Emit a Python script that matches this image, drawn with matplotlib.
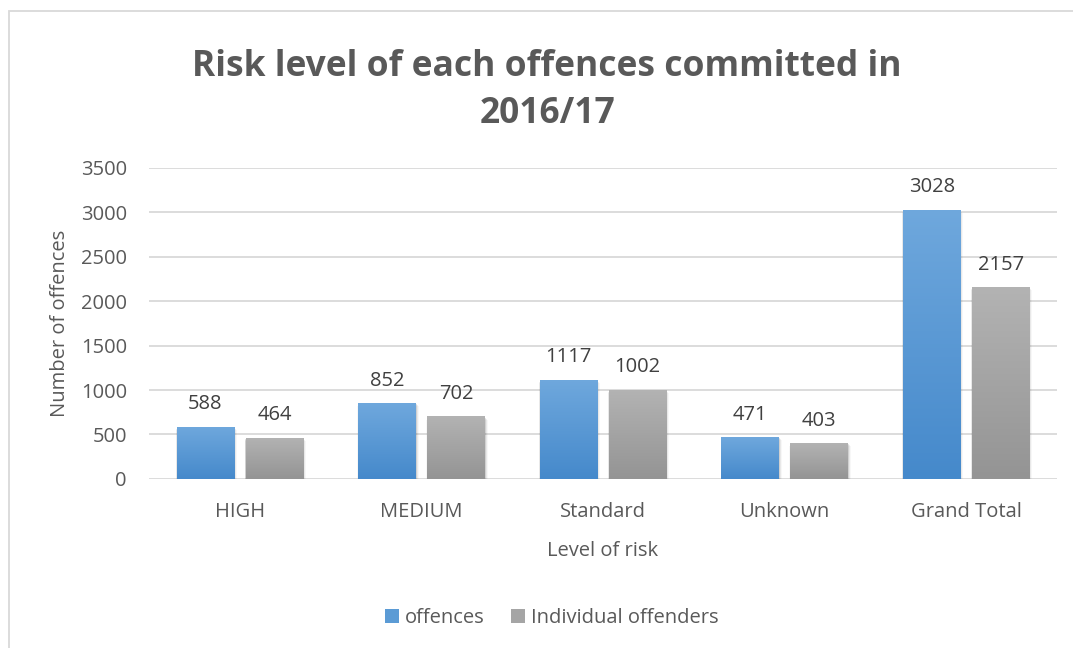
import numpy as np
import matplotlib.pyplot as plt
from matplotlib.colors import LinearSegmentedColormap
from matplotlib.patches import Rectangle

categories = ["HIGH", "MEDIUM", "Standard", "Unknown", "Grand Total"]
offences = [588, 852, 1117, 471, 3028]
individual_offenders = [464, 702, 1002, 403, 2157]
series_names = ["offences", "Individual offenders"]

TEXT = "#595959"
plt.rcParams["font.family"] = ["Open Sans", "DejaVu Sans"]

fig = plt.figure(figsize=(10.73, 6.48), dpi=100)
# outer chart frame (runs off the right and bottom edges)
fig.patches.append(Rectangle((8.5 / 1073, -10 / 648), 1100 / 1073, 647 / 648,
                             transform=fig.transFigure, fill=False,
                             edgecolor="#d9d9d9", linewidth=1.3))

ax = fig.add_axes([0.139, 0.261, 0.846, 0.48])

x = np.arange(len(categories))
width = 0.315
offset = 0.19

blue_cmap = LinearSegmentedColormap.from_list("b", ["#6fa8dd", "#4589cb"])
gray_cmap = LinearSegmentedColormap.from_list("g", ["#b3b3b3", "#949494"])
grad = np.linspace(0, 1, 256).reshape(-1, 1)


def gradient_bars(xs, values, cmap, label):
    bars = ax.bar(xs, values, width, color="none", label=label, zorder=3)
    for b in bars:
        x0, y0 = b.get_x(), b.get_y()
        w, h = b.get_width(), b.get_height()
        # soft drop shadow
        for k, a in enumerate([0.10, 0.06, 0.03]):
            d = 0.006 * (k + 1)
            ax.add_patch(Rectangle((x0 - d * 0.3, y0 - 12 * (k + 1)), w + d * 1.2, h,
                                   facecolor="black", alpha=a, linewidth=0, zorder=2))
        im = ax.imshow(grad, cmap=cmap, aspect="auto",
                       extent=[x0, x0 + w, y0, y0 + h], zorder=3)
        im.set_clip_path(b)
    for xi, v in zip(xs, values):
        ax.annotate(str(v), (xi, v), xytext=(0, 9), textcoords="offset points",
                    ha="center", va="bottom", fontsize=14.5, color="#404040")
    return bars


gradient_bars(x - offset, offences, blue_cmap, series_names[0])
gradient_bars(x + offset, individual_offenders, gray_cmap, series_names[1])

ax.set_xlim(-0.5, len(categories) - 0.5)
ax.set_ylim(0, 3500)
ax.set_yticks(range(0, 3501, 500))
ax.set_xticks(x)
ax.set_xticklabels(categories)
ax.grid(axis="y", color="#d9d9d9", linewidth=1.3, zorder=0)
ax.set_axisbelow(True)
for s in ax.spines.values():
    s.set_visible(False)
ax.tick_params(length=0, labelsize=14.5, labelcolor=TEXT)
ax.tick_params(axis="x", pad=17)
ax.tick_params(axis="y", pad=16)

ax.set_xlabel("Level of risk", fontsize=14.5, color=TEXT, labelpad=13)
ax.set_ylabel("Number of offences", fontsize=14.5, color=TEXT, labelpad=8)

fig.text(0.51, 0.86, "Risk level of each offences committed in\n2016/17",
         ha="center", va="center", fontsize=25.5, fontweight="bold",
         color=TEXT, linespacing=1.42)

handles = [Rectangle((0, 0), 1, 1, facecolor="#5b9bd5"),
           Rectangle((0, 0), 1, 1, facecolor="#a5a5a5")]
fig.legend(handles, series_names, loc="center", bbox_to_anchor=(0.514, 0.046),
           ncol=2, frameon=False, fontsize=14.5, labelcolor=TEXT,
           handlelength=0.7, handleheight=0.7, handletextpad=0.3,
           columnspacing=1.3)

fig.savefig("out.png", dpi=100)
